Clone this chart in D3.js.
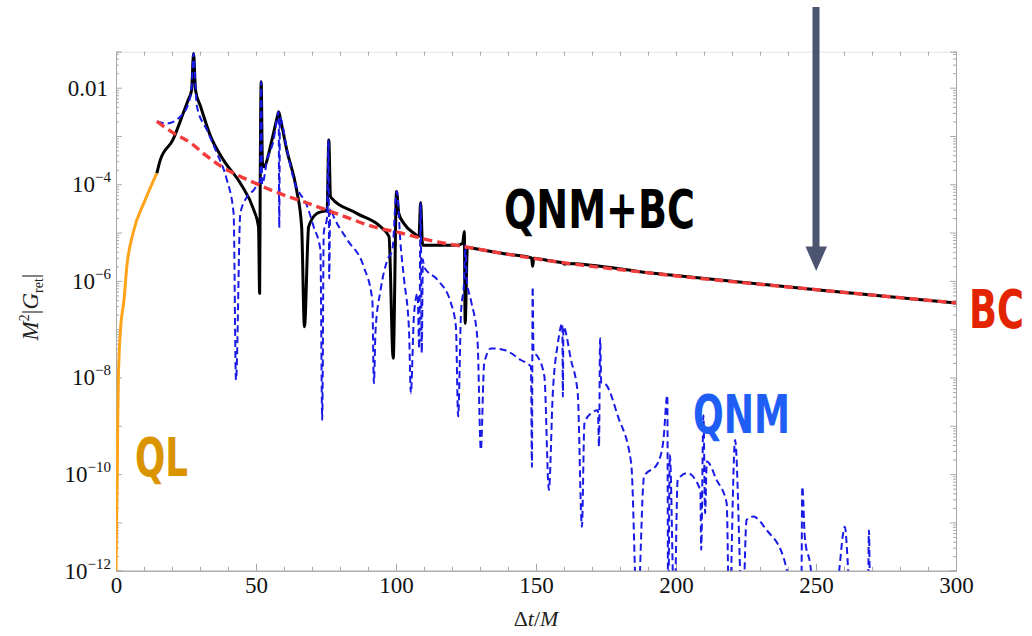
<!DOCTYPE html>
<html>
<head>
<meta charset="utf-8">
<script src="https://cdn.jsdelivr.net/npm/d3@7"></script>
<style>
  body { margin: 0; background: #fff; }
  svg { display: block; }
</style>
</head>
<body>
<svg id="chart" width="1032" height="636"></svg>
<script>
// Retarded Green function magnitude, M^2 |G_ret|, versus Δt/M.
// Each series is a list of [Δt/M, M^2|G_ret|] samples.

// Quasi-local (early time) part
const qlCurve = [
  [0, 1e-12], [0.2, 1e-11], [0.45, 1e-10], [0.6, 1e-9], [0.85, 1e-8],
  [1.6, 9.5e-8], [2.85, 4.0e-7], [3.85, 1.95e-6], [6.1, 9.8e-6],
  [10.4, 4.7e-5], [14.6, 1.7e-4]
];

// Full Green function: quasinormal modes plus branch cut
const fullCurve = [
  [14.6, 1.7e-4], [15.8, 3.16e-4], [20.3, 8.3e-4], [24.0, 2.95e-3],
  [25.8, 5.6e-3], [27.0, 8.9e-3], [27.7, 5.1e-2], [28.4, 8.9e-3],
  [30.2, 4.1e-3], [33.8, 9.8e-4], [38.4, 3.16e-4], [44.4, 1.05e-4],
  [49.2, 2.95e-5], [50.9, 1.32e-5], [51.3, 5.5e-7], [51.5, 1.0e-4],
  [51.85, 1.32e-2], [52.3, 2.8e-4], [52.7, 2.3e-4], [55.7, 8.3e-4],
  [57.5, 2.35e-3], [58.1, 3.16e-3], [58.8, 2.14e-3], [61.0, 5.1e-4],
  [64.5, 7.6e-5], [66.3, 1.32e-5], [67.3, 1.12e-7], [68.8, 1.32e-5],
  [71.8, 2.5e-5], [75.4, 2.95e-5], [76.0, 8.3e-4], [76.6, 5.5e-5],
  [86.0, 2.5e-5], [94.5, 1.32e-5], [97.5, 8.3e-6], [99.0, 2.5e-8],
  [100.2, 7.1e-5], [101.0, 2.5e-5], [102.8, 1.55e-5], [106.3, 9.8e-6],
  [108.2, 8.3e-6], [108.8, 4.2e-5], [109.5, 5.5e-6], [122.0, 5.5e-6],
  [123.8, 6.0e-6], [124.4, 1.05e-5], [124.7, 1.32e-7], [125.5, 5.0e-6],
  [127, 4.8e-6], [140, 3.55e-6], [148.4, 3.0e-6], [148.8, 2.0e-6],
  [149.2, 2.95e-6], [155, 2.6e-6], [159.8, 2.35e-6], [160.2, 2.2e-6],
  [160.6, 2.3e-6], [191, 1.45e-6], [251, 6.5e-7], [300, 3.5e-7]
];

// Quasinormal mode sum
const qnmCurve = [
  [14.6, 2.0e-3], [18.15, 1.82e-3], [22.9, 2.5e-3], [25.9, 4.8e-3],
  [27.0, 1.0e-2], [27.7, 5.1e-2], [28.4, 1.0e-2], [28.9, 4.1e-3],
  [32.5, 1.32e-3], [36.05, 4.4e-4], [39.6, 1.23e-4], [42.0, 2.5e-5],
  [42.86, 8.9e-9], [44.4, 2.5e-5], [46.8, 5.5e-5], [49.2, 7.6e-5],
  [50.9, 1.05e-4], [51.5, 1.12e-4], [51.85, 1.32e-2], [52.2, 1.0e-4],
  [53.96, 3.16e-4], [56.3, 8.3e-4], [57.8, 2.8e-3], [58.1, 3.16e-3],
  [58.3, 1.26e-5], [58.55, 2.4e-3], [61.1, 5.1e-4], [63.5, 1.23e-4],
  [68.3, 3.5e-5], [70.6, 1.32e-5], [73.0, 4.4e-6], [73.65, 1.32e-9],
  [74.2, 9.8e-6], [75.4, 2.1e-5], [75.9, 8.3e-4], [76.15, 1.12e-6],
  [76.5, 3.2e-5], [77.8, 2.1e-5], [82.6, 7.1e-6], [88.5, 1.95e-6],
  [91.55, 4.0e-7], [92.1, 7.6e-9], [92.7, 9.5e-8], [94.5, 6.5e-7],
  [96.9, 2.7e-6], [98.7, 4.4e-6], [100.25, 7.1e-5], [101.7, 5.1e-6],
  [102.9, 1.05e-6], [104.65, 9.5e-8], [105.3, 4.7e-9], [106.45, 2.1e-7],
  [107.7, 5.5e-7], [108.3, 4.0e-8], [108.8, 4.2e-5], [109.2, 3.2e-8],
  [109.6, 2.8e-6], [110.0, 1.95e-6], [114.8, 1.05e-6], [119.6, 3.5e-7],
  [121.4, 1.12e-7], [122.2, 1.55e-9], [123.2, 2.1e-7], [124.35, 1.05e-6],
  [124.8, 5.5e-6], [125.3, 1.0e-6], [126.75, 4.0e-7], [129.1, 6.0e-8],
  [130.3, 3.2e-10], [131.5, 1.95e-8], [133.9, 4.0e-8], [138.7, 3.7e-8],
  [144.6, 2.3e-8], [148.2, 1.66e-8], [148.55, 1.41e-10], [148.8, 7.6e-7],
  [149.1, 3.55e-8], [150.6, 2.7e-8], [153.0, 1.05e-8], [154.6, 4.7e-11],
  [156.0, 4.7e-9], [157.8, 5.1e-8], [159.4, 1.32e-7], [159.6, 4.0e-9],
  [159.8, 1.12e-7], [162.5, 2.3e-8], [164.9, 4.7e-9], [166.4, 8.1e-12],
  [167.3, 1.12e-9], [169.7, 1.82e-9], [172.1, 2.1e-9], [172.5, 3.7e-10],
  [172.9, 6.5e-8], [173.3, 7.9e-9], [174.5, 7.6e-9], [179.3, 1.55e-9],
  [184.0, 1.66e-10], [186.2, 1e-13], [188.6, 8.9e-11], [193.4, 1.66e-10],
  [195.5, 5.0e-10], [196.9, 4.3e-9], [197.2, 1e-13], [197.8, 2.5e-10],
  [199.4, 1e-13], [200.6, 7.6e-11], [204.0, 1.05e-10], [208.7, 4.7e-11],
  [209.0, 2.7e-12], [209.8, 1.66e-9], [210.4, 1.55e-11], [211.0, 1.82e-10],
  [214.5, 7.6e-11], [218.1, 2.5e-11], [219.0, 1e-13], [221.1, 5.1e-10],
  [223.8, 1e-13], [225.2, 1.12e-11], [227.6, 1.32e-11], [232.4, 6.9e-12],
  [238.3, 1.95e-12], [241.0, 5e-13], [244.7, 1e-13], [245.1, 5.5e-11],
  [246.0, 5.0e-12], [248.2, 1e-12], [249.5, 1e-13], [257.5, 5e-13],
  [260.3, 8.1e-12], [262.0, 5e-13], [268.5, 1e-13], [268.9, 6.9e-12],
  [269.3, 1e-13]
];

// Branch cut contribution (late-time tail)
const bcCurve = [
  [14.6, 2.0e-3], [20, 1.2e-3], [26.8, 7.1e-4], [32, 4.0e-4],
  [38.4, 2.2e-4], [44.4, 1.45e-4], [50.3, 1.02e-4], [56.3, 7.2e-5],
  [68.3, 4.1e-5], [80.2, 2.3e-5], [92.1, 1.32e-5], [101.7, 9.8e-6],
  [109, 7.6e-6], [127, 4.8e-6], [155, 2.6e-6], [191, 1.45e-6],
  [251, 6.5e-7], [300, 3.5e-7]
];

// Axis ticks
const xTickValues = [0, 50, 100, 150, 200, 250, 300];
const xMinorValues = d3.range(0, 301, 10);
const yTickExponents = [-2, -4, -6, -8, -10, -12];

const svg = d3.select("#chart");

const x = d3.scaleLinear().domain([0, 300]).range([116, 956]);
const y = d3.scaleLog().domain([1e-12, 0.0556]).range([570.7, 51.7]);

const plotLeft = 116, plotRight = 956, plotTop = 51.7, plotBottom = 570.7;

// Log minor tick values: k * 10^d
const yMinorValues = [];
for (let d = -12; d <= -2; d++) {
  for (let k = 2; k <= 9; k++) {
    const v = k * Math.pow(10, d);
    if (v <= 0.0556) yMinorValues.push(v);
  }
}
const yDecadeValues = d3.range(-12, -1).map(d => Math.pow(10, d));

const frameColor = "#a8a8a8";
const serif = "'Liberation Serif', 'Times New Roman', serif";

function styleAxis(g) {
  g.select(".domain").attr("stroke", frameColor).attr("stroke-width", 1);
  g.selectAll(".tick line").attr("stroke", frameColor).attr("stroke-width", 1);
}

// Bottom axis with labels
const gx = svg.append("g")
  .attr("transform", `translate(0,${plotBottom})`)
  .call(d3.axisBottom(x).tickValues(xTickValues).tickSize(-7).tickPadding(6))
  .call(styleAxis)
  .attr("font-family", serif)
  .attr("font-size", 23);
gx.selectAll("text").attr("fill", "#111");

svg.append("g")
  .attr("transform", `translate(0,${plotBottom})`)
  .call(d3.axisBottom(x).tickValues(xMinorValues).tickSize(-4).tickFormat(""))
  .call(styleAxis);

// Top mirror ticks
svg.append("g")
  .attr("transform", `translate(0,${plotTop})`)
  .call(d3.axisTop(x).tickValues(xMinorValues).tickSize(-4).tickFormat(""))
  .call(styleAxis)
  .call(g => g.select(".domain").attr("stroke", "#e4e4e4"));

// Left axis
svg.append("g")
  .attr("transform", `translate(${plotLeft},0)`)
  .call(d3.axisLeft(y).tickValues(yDecadeValues).tickSize(-6).tickFormat(""))
  .call(styleAxis);
svg.append("g")
  .attr("transform", `translate(${plotLeft},0)`)
  .call(d3.axisLeft(y).tickValues(yMinorValues).tickSize(-3).tickFormat(""))
  .call(styleAxis);

// Right mirror axis
svg.append("g")
  .attr("transform", `translate(${plotRight},0)`)
  .call(d3.axisRight(y).tickValues(yDecadeValues).tickSize(-6).tickFormat(""))
  .call(styleAxis);
svg.append("g")
  .attr("transform", `translate(${plotRight},0)`)
  .call(d3.axisRight(y).tickValues(yMinorValues).tickSize(-3).tickFormat(""))
  .call(styleAxis);

// Y tick labels: 0.01 and powers of ten
const yLabels = svg.append("g")
  .attr("font-family", serif)
  .attr("fill", "#111")
  .attr("text-anchor", "end");
yTickExponents.forEach(e => {
  const t = yLabels.append("text")
    .attr("x", e === -2 ? 108 : 111)
    .attr("y", y(Math.pow(10, e)) + 8)
    .attr("font-size", 23);
  if (e === -2) {
    t.text("0.01");
  } else {
    t.append("tspan").text("10");
    t.append("tspan").attr("font-size", 15).attr("dy", -10).text("\u2212" + (-e));
  }
});

// Axis titles
const yTitle = svg.append("text")
  .attr("transform", "translate(38,307) rotate(-90)")
  .attr("text-anchor", "middle")
  .attr("font-family", serif)
  .attr("font-size", 23)
  .attr("fill", "#222");
yTitle.append("tspan").attr("font-style", "italic").text("M");
yTitle.append("tspan").attr("font-size", 14).attr("dy", -9).text("2");
yTitle.append("tspan").attr("dy", 9).text("|");
yTitle.append("tspan").attr("font-style", "italic").text("G");
yTitle.append("tspan").attr("font-size", 14).attr("dy", 5).text("ret");
yTitle.append("tspan").attr("dy", -5).text("|");

const xTitle = svg.append("text")
  .attr("x", 536).attr("y", 626)
  .attr("text-anchor", "middle")
  .attr("font-family", serif)
  .attr("font-size", 22)
  .attr("fill", "#222");
xTitle.append("tspan").text("\u0394");
xTitle.append("tspan").attr("font-style", "italic").text("t");
xTitle.append("tspan").text("/");
xTitle.append("tspan").attr("font-style", "italic").text("M");

// Curves
svg.append("defs").append("clipPath").attr("id", "plotClip")
  .append("rect").attr("x", plotLeft).attr("y", 44)
  .attr("width", plotRight - plotLeft).attr("height", plotBottom - 44);

const line = d3.line()
  .x(d => x(d[0]))
  .y(d => y(d[1]))
  .curve(d3.curveMonotoneX);

const plot = svg.append("g").attr("clip-path", "url(#plotClip)");

plot.append("path").datum(qlCurve)
  .attr("d", line).attr("fill", "none")
  .attr("stroke", "#ffa31a").attr("stroke-width", 3).attr("stroke-linejoin", "round");

plot.append("path").datum(fullCurve)
  .attr("d", line).attr("fill", "none")
  .attr("stroke", "#000").attr("stroke-width", 3).attr("stroke-linejoin", "round");

plot.append("path").datum(qnmCurve)
  .attr("d", line).attr("fill", "none")
  .attr("stroke", "#1a1ae6").attr("stroke-width", 2)
  .attr("stroke-dasharray", "7,4");

plot.append("path").datum(bcCurve)
  .attr("d", line).attr("fill", "none")
  .attr("stroke", "#f23b3b").attr("stroke-width", 3.4)
  .attr("stroke-dasharray", "9,5");

// Annotations: bold condensed labels, squeezed horizontally to a set width
const condensed = "'Liberation Sans Narrow', 'DejaVu Sans Condensed', 'Roboto', sans-serif";
function label(text, xPos, yPos, len, color) {
  const t = svg.append("text")
    .attr("x", 0).attr("y", 0)
    .attr("font-family", condensed)
    .attr("font-weight", "bold")
    .attr("font-size", 54)
    .attr("fill", color)
    .text(text);
  const natural = t.node().getComputedTextLength() || len;
  t.attr("transform", `translate(${xPos},${yPos}) scale(${len / natural},1)`);
}
label("QNM+BC", 504, 228, 191, "#000");
label("BC", 969, 328, 55, "#e22500");
label("QNM", 693, 433, 97, "#1f5ef5");
label("QL", 135, 476, 53, "#d99400");

// Marker arrow
const arrowColor = "#4b5570";
svg.append("rect")
  .attr("x", 812.5).attr("y", 7).attr("width", 7).attr("height", 242)
  .attr("fill", arrowColor);
svg.append("path")
  .attr("d", "M805.5,246.5 L827,246.5 L816.2,271 Z")
  .attr("fill", arrowColor);
</script>
</body>
</html>
